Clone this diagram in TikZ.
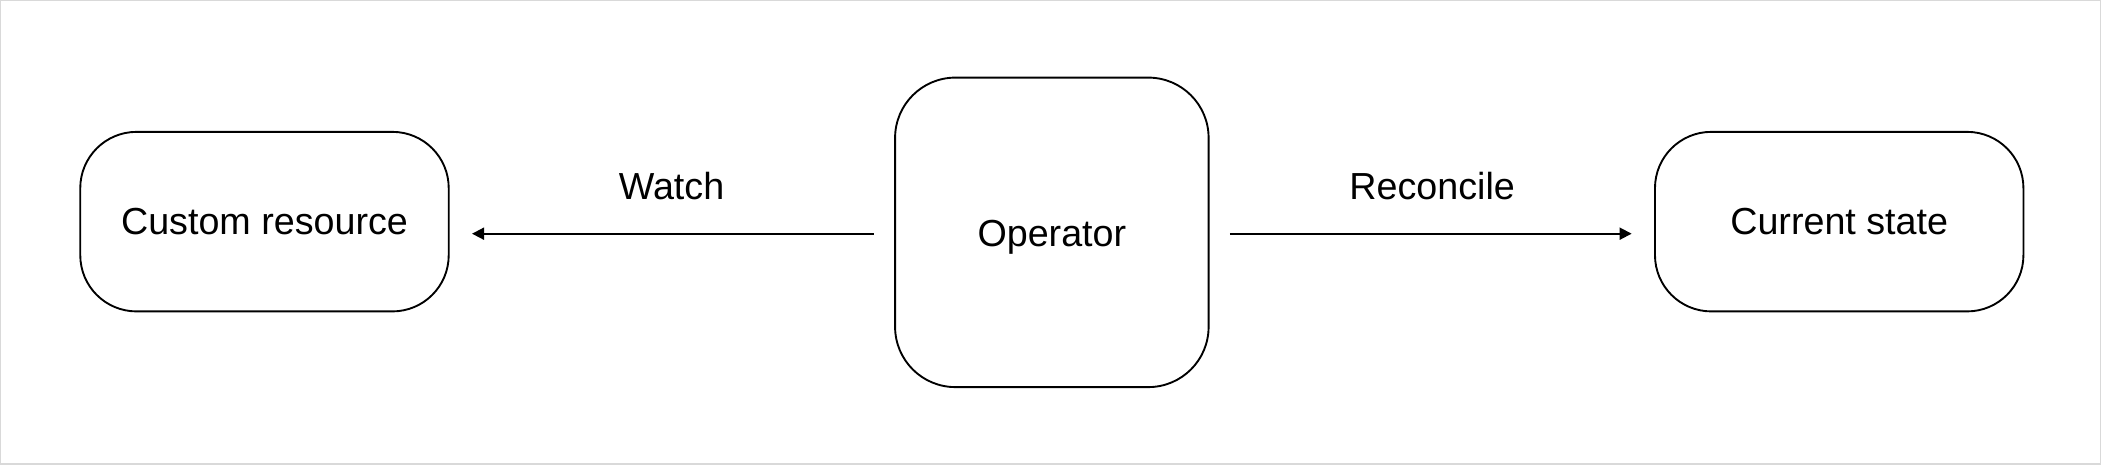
\documentclass[tikz,border=0pt]{standalone}
\usepackage{fontspec}
\setmainfont{Liberation Sans}
\usetikzlibrary{arrows.meta}
\begin{document}
\begin{tikzpicture}[x=0.01cm,y=-0.01cm,
  box/.style={draw,line width=0.4pt,rounded corners=0.42cm,font=\fontsize{8}{10}\selectfont},
  conn/.style={line width=0.4pt,-{Triangle[length=0.09cm,width=0.09cm]},shorten >=0.02cm},
  lbl/.style={font=\fontsize{8}{10}\selectfont}]
\path[draw=gray!30,line width=0.3pt] (0,0) rectangle (1568,346);
\useasboundingbox (0,0) rectangle (1568,346);
\node[box,minimum width=2.75cm,minimum height=1.34cm] (cr) at (197,165) {Custom resource};
\node[box,minimum width=2.34cm,minimum height=2.31cm,rounded corners=0.45cm] (op) at (785,173) {};
\node at (785,177) {\fontsize{8}{10}\selectfont Operator};
\node[box,minimum width=2.75cm,minimum height=1.34cm] (cs) at (1373,165) {Current state};
\coordinate (a1) at (652,174); \coordinate (a2) at (350,174);
\coordinate (b1) at (918,174); \coordinate (b2) at (1220,174);
\draw[conn] (a1) -- (a2) node[lbl,midway,above=0.13cm] {Watch};
\draw[conn] (b1) -- (b2) node[lbl,midway,above=0.13cm] {Reconcile};
\end{tikzpicture}
\end{document}
